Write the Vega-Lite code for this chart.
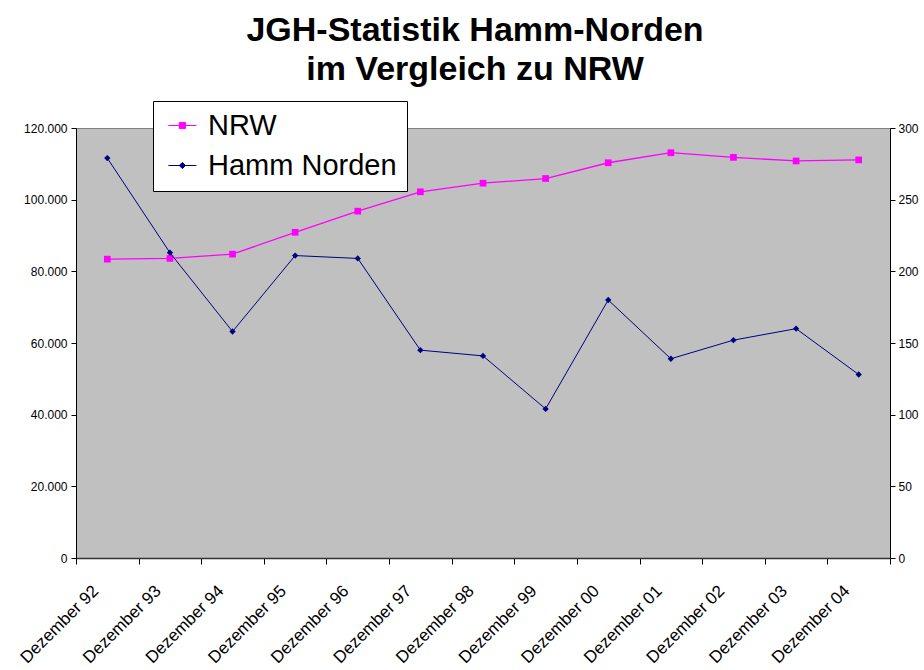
{
  "$schema": "https://vega.github.io/schema/vega-lite/v6.json",
  "width": 814,
  "height": 430,
  "autosize": {"type": "none"},
  "padding": {"left": 76, "top": 128, "right": 34, "bottom": 112},
  "background": "white",
  "config": {
    "view": {"fill": "#c0c0c0", "stroke": "#808080", "strokeWidth": 1},
    "font": "Liberation Sans"
  },
  "title": {
    "text": ["JGH-Statistik Hamm-Norden", "im Vergleich zu NRW"],
    "font": "Liberation Sans",
    "fontSize": 34,
    "fontWeight": "bold",
    "color": "black",
    "anchor": "middle",
    "frame": "group",
    "lineHeight": 39,
    "dx": -8,
    "offset": 14
  },
  "data": {
    "values": [
      {"monat": "Dezember 92", "series": "NRW", "wert": 83400},
      {"monat": "Dezember 93", "series": "NRW", "wert": 83600},
      {"monat": "Dezember 94", "series": "NRW", "wert": 84800},
      {"monat": "Dezember 95", "series": "NRW", "wert": 90900},
      {"monat": "Dezember 96", "series": "NRW", "wert": 96800},
      {"monat": "Dezember 97", "series": "NRW", "wert": 102200},
      {"monat": "Dezember 98", "series": "NRW", "wert": 104600},
      {"monat": "Dezember 99", "series": "NRW", "wert": 105900},
      {"monat": "Dezember 00", "series": "NRW", "wert": 110300},
      {"monat": "Dezember 01", "series": "NRW", "wert": 113100},
      {"monat": "Dezember 02", "series": "NRW", "wert": 111800},
      {"monat": "Dezember 03", "series": "NRW", "wert": 110800},
      {"monat": "Dezember 04", "series": "NRW", "wert": 111100},
      {"monat": "Dezember 92", "series": "Hamm Norden", "wert": 279},
      {"monat": "Dezember 93", "series": "Hamm Norden", "wert": 213},
      {"monat": "Dezember 94", "series": "Hamm Norden", "wert": 158},
      {"monat": "Dezember 95", "series": "Hamm Norden", "wert": 211},
      {"monat": "Dezember 96", "series": "Hamm Norden", "wert": 209},
      {"monat": "Dezember 97", "series": "Hamm Norden", "wert": 145},
      {"monat": "Dezember 98", "series": "Hamm Norden", "wert": 141},
      {"monat": "Dezember 99", "series": "Hamm Norden", "wert": 104},
      {"monat": "Dezember 00", "series": "Hamm Norden", "wert": 180},
      {"monat": "Dezember 01", "series": "Hamm Norden", "wert": 139},
      {"monat": "Dezember 02", "series": "Hamm Norden", "wert": 152},
      {"monat": "Dezember 03", "series": "Hamm Norden", "wert": 160},
      {"monat": "Dezember 04", "series": "Hamm Norden", "wert": 128}
    ]
  },
  "encoding": {
    "x": {
      "field": "monat",
      "type": "nominal",
      "sort": null,
      "title": null,
      "scale": {"paddingInner": 0, "paddingOuter": 0},
      "axis": {
        "labelAngle": -45,
        "labelAlign": "right",
        "labelBaseline": "middle",
        "labelFontSize": 17,
        "labelFont": "Liberation Sans",
        "labelColor": "black",
        "labelPadding": 24,
        "labelOffset": -12,
        "tickBand": "extent",
        "tickSize": 6,
        "tickColor": "black",
        "domainColor": "#333333",
        "domainWidth": 1.5,
        "grid": false
      }
    }
  },
  "layer": [
    {
      "transform": [{"filter": "datum.series === 'NRW'"}],
      "encoding": {
        "y": {
          "field": "wert",
          "type": "quantitative",
          "title": null,
          "scale": {"domain": [0, 120000], "nice": false},
          "axis": {
            "orient": "left",
            "values": [0, 20000, 40000, 60000, 80000, 100000, 120000],
            "labelExpr": "replace(format(datum.value, ','), ',', '.')",
            "labelFontSize": 12,
            "labelColor": "black",
            "labelPadding": 4,
            "tickSize": 5,
            "tickColor": "black",
            "domainColor": "black",
            "grid": false
          }
        },
        "color": {
          "field": "series",
          "type": "nominal",
          "scale": {"domain": ["NRW", "Hamm Norden"], "range": ["#ff00ff", "#000080"]},
          "legend": {
            "orient": "none",
            "legendX": 77,
            "legendY": -27,
            "title": null,
            "fillColor": "white",
            "strokeColor": "black",
            "padding": 10,
            "labelFontSize": 29,
            "labelFont": "Liberation Sans",
            "labelColor": "black",
            "labelLimit": 400,
            "labelOffset": 16,
            "rowPadding": 10,
            "symbolSize": 784,
            "symbolStrokeWidth": 1,
            "symbolType": "M-1,0H1",
            "encode": {
              "symbols": {
                "update": {
                  "shape": {"signal": "datum.value === 'NRW' ? 'M-0.65,0H1.35M0.13,-0.22H0.57V0.22H0.13Z' : 'M-0.65,0H1.35M0.35,-0.22L0.57,0L0.35,0.22L0.13,0Z'"},
                  "fill": {"signal": "datum.value === 'NRW' ? '#ff00ff' : '#000080'"},
                  "stroke": {"signal": "datum.value === 'NRW' ? '#ff00ff' : '#000080'"}
                }
              }
            }
          }
        }
      },
      "layer": [
        {"mark": {"type": "line", "strokeWidth": 1.3}},
        {"mark": {"type": "point", "shape": "square", "filled": true, "size": 45, "opacity": 1}}
      ]
    },
    {
      "transform": [{"filter": "datum.series === 'Hamm Norden'"}],
      "encoding": {
        "y": {
          "field": "wert",
          "type": "quantitative",
          "title": null,
          "scale": {"domain": [0, 300], "nice": false},
          "axis": {
            "orient": "right",
            "values": [0, 50, 100, 150, 200, 250, 300],
            "labelFontSize": 12,
            "labelColor": "black",
            "labelPadding": 3,
            "tickSize": 5,
            "tickColor": "black",
            "domainColor": "black",
            "grid": false
          }
        },
        "color": {"field": "series", "type": "nominal", "legend": null}
      },
      "layer": [
        {"mark": {"type": "line", "strokeWidth": 1}},
        {"mark": {"type": "point", "shape": "diamond", "filled": true, "size": 40, "opacity": 1}}
      ]
    }
  ],
  "resolve": {"scale": {"y": "independent"}}
}
